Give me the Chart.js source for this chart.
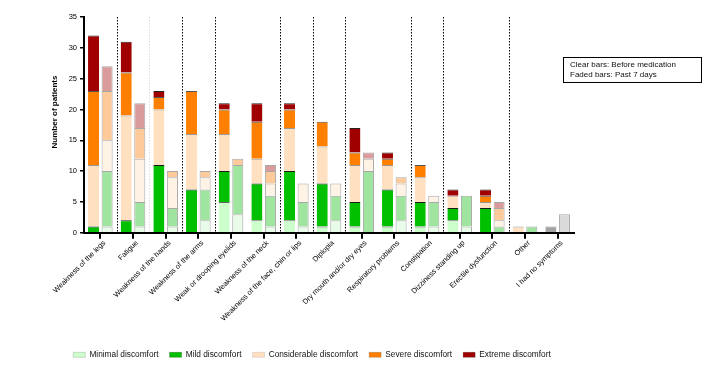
<!DOCTYPE html>
<html>
<head>
<meta charset="utf-8">
<script src="https://cdn.jsdelivr.net/npm/chart.js@4.4.0/dist/chart.umd.min.js"></script>
<style>
  html, body { margin: 0; padding: 0; background: #fff; }
  #wrap { width: 705px; height: 371px; position: relative; }
</style>
</head>
<body>
<div id="wrap"><canvas id="c" width="705" height="371"></canvas></div>
<script>
const categories = [
  "Weakness of the legs", "Fatigue", "Weakness of the hands", "Weakness of the arms",
  "Weak or drooping eyelids", "Weakness of the neck", "Weakness of the face, chin or lips",
  "Diplopia", "Dry mouth and/or dry eyes", "Respiratory problems", "Constipation",
  "Dizziness standing up", "Erectile dysfunction", "Other", "I had no symptoms"
];
const levels = ["Minimal discomfort", "Mild discomfort", "Considerable discomfort", "Severe discomfort", "Extreme discomfort"];

// Clear bars: before medication
const beforeMinimal      = [0, 0, 0, 0, 5, 2, 2, 1, 1, 1, 1, 2, 0, 0, 0];
const beforeMild         = [1, 2, 11, 7, 5, 6, 8, 7, 4, 6, 4, 2, 4, 0, 0];
const beforeConsiderable = [10, 17, 9, 9, 6, 4, 7, 6, 6, 4, 4, 2, 1, 1, 0];
const beforeSevere       = [12, 7, 2, 7, 4, 6, 3, 4, 2, 1, 2, 0, 1, 0, 0];
const beforeExtreme      = [9, 5, 1, 0, 1, 3, 1, 0, 4, 1, 0, 1, 1, 0, 0];
const beforeNoSymptoms   = [0, 0, 0, 0, 0, 0, 0, 0, 0, 0, 0, 0, 0, 0, 1];

// Faded bars: past 7 days
const pastMinimal      = [1, 1, 1, 2, 3, 1, 1, 2, 0, 2, 1, 1, 0, 0, 0];
const pastMild         = [9, 4, 3, 5, 8, 5, 4, 4, 10, 4, 4, 5, 1, 1, 0];
const pastConsiderable = [5, 7, 5, 2, 0, 2, 3, 2, 2, 2, 1, 0, 1, 0, 0];
const pastSevere       = [8, 5, 1, 1, 1, 2, 0, 0, 0, 1, 0, 0, 2, 0, 0];
const pastExtreme      = [4, 4, 0, 0, 0, 1, 0, 0, 1, 0, 0, 0, 1, 0, 0];
const pastNoSymptoms   = [0, 0, 0, 0, 0, 0, 0, 0, 0, 0, 0, 0, 0, 0, 3];

const yTicks = [0, 5, 10, 15, 20, 25, 30, 35];

const clearColors = ["#ccffcc", "#00c000", "#ffe0c0", "#ff8000", "#a00000"];
const clearBorders = ["#666666", "#1a1a1a", "#999999", "#555555", "#222222"];
const fadedColors = ["#e9fbe9", "#9fe49f", "#fff3e6", "#ffca99", "#d99b9b"];
const fadedBorder = "#a8a8a8";

const nz = arr => arr.map(v => v === 0 ? null : v);

const beforeSeries = [beforeMinimal, beforeMild, beforeConsiderable, beforeSevere, beforeExtreme];
const pastSeries = [pastMinimal, pastMild, pastConsiderable, pastSevere, pastExtreme];

const datasets = [];
beforeSeries.forEach((d, i) => datasets.push({
  label: levels[i], data: nz(d), stack: "before",
  backgroundColor: clearColors[i], borderColor: clearBorders[i],
  borderWidth: {top: 1, left: 0, right: 0, bottom: 0}, borderSkipped: false
}));
pastSeries.forEach((d, i) => datasets.push({
  label: levels[i] + " (past 7 days)", data: nz(d), stack: "past",
  backgroundColor: fadedColors[i], borderColor: fadedBorder,
  borderWidth: {top: 1, left: 1, right: 1, bottom: 0}, borderSkipped: false
}));
datasets.push({label: "No symptoms (before)", data: nz(beforeNoSymptoms), stack: "before",
  backgroundColor: "#a3a3a3", borderColor: "#8a8a8a", borderWidth: {top: 1, left: 0, right: 0, bottom: 0}, borderSkipped: false});
datasets.push({label: "No symptoms (past)", data: nz(pastNoSymptoms), stack: "past",
  backgroundColor: "#dadada", borderColor: "#a8a8a8", borderWidth: {top: 1, left: 1, right: 1, bottom: 0}, borderSkipped: false});

datasets.forEach(ds => { ds.categoryPercentage = 0.83; ds.barPercentage = 0.815; });

// group separators (after category index), faint ones listed separately
const separatorsAfter = [0, 2, 3, 5, 6, 7, 9, 10, 12];
const faintSeparatorsAfter = [1];

const font = "'Liberation Sans', Arial, sans-serif";

const extras = {
  id: "extras",
  beforeDatasetsDraw(chart) {
    const {ctx, chartArea, scales: {x}} = chart;
    ctx.save();
    ctx.lineWidth = 1;
    ctx.setLineDash([1.5, 1.5]);
    const drawSep = (i, color) => {
      const px = Math.round((x.getPixelForValue(i) + x.getPixelForValue(i + 1)) / 2) + 0.5;
      ctx.strokeStyle = color;
      ctx.beginPath();
      ctx.moveTo(px, chartArea.top);
      ctx.lineTo(px, chartArea.bottom);
      ctx.stroke();
    };
    faintSeparatorsAfter.forEach(i => drawSep(i, "#dddddd"));
    separatorsAfter.forEach(i => drawSep(i, "#000000"));
    ctx.restore();
  },
  afterDraw(chart) {
    const {ctx, chartArea, scales: {x}} = chart;
    // x tick marks at category centres
    ctx.save();
    ctx.strokeStyle = "#000";
    ctx.lineWidth = 2;
    categories.forEach((c, i) => {
      const px = Math.round(x.getPixelForValue(i));
      ctx.beginPath();
      ctx.moveTo(px, chartArea.bottom);
      ctx.lineTo(px, chartArea.bottom + 6);
      ctx.stroke();
    });
    ctx.restore();

    ctx.save();
    // y-axis title
    ctx.translate(55, 112);
    ctx.rotate(-Math.PI / 2);
    ctx.fillStyle = "#000";
    ctx.font = "bold 8px " + font;
    ctx.textAlign = "center";
    ctx.textBaseline = "middle";
    ctx.fillText("Number of patients", 0, 0);
    ctx.restore();

    ctx.save();
    ctx.strokeStyle = "#000";
    ctx.lineWidth = 1;
    ctx.strokeRect(563.5, 57.5, 138, 25);
    ctx.fillStyle = "#111";
    ctx.font = "8px " + font;
    ctx.textBaseline = "middle";
    ctx.textAlign = "left";
    ctx.fillText("Clear bars: Before medication", 570, 64.5);
    ctx.fillText("Faded bars: Past 7 days", 570, 74.5);
    ctx.restore();
  }
};

new Chart(document.getElementById("c"), {
  type: "bar",
  data: { labels: categories, datasets },
  options: {
    responsive: false,
    animation: false,
    events: [],
    layout: { padding: { left: 50, right: 131, top: 17, bottom: 2 } },
    plugins: {
      tooltip: { enabled: false },
      legend: {
        position: "bottom",
        labels: {
          filter: item => item.datasetIndex < 5,
          boxWidth: 12, boxHeight: 5, padding: 11,
          color: "#111",
          font: { family: font, size: 8.3 }
        }
      }
    },
    scales: {
      x: {
        stacked: true,
        offset: true,
        grid: { display: true, drawOnChartArea: false, drawTicks: true, offset: false, tickLength: 5,
          color: "#000", tickColor: "#000", tickWidth: 2, lineWidth: 2 },
        border: { display: true, color: "#000", width: 2 },
        ticks: { autoSkip: false, maxRotation: 45, minRotation: 45, padding: 1, labelOffset: 4, color: "#000",
          font: { family: font, size: 7.4 } },
        afterFit: s => { s.height = 107; }
      },
      y: {
        stacked: true,
        min: 0, max: 35,
        afterBuildTicks: s => { s.ticks = yTicks.map(v => ({ value: v })); },
        grid: { display: true, drawOnChartArea: false, tickLength: 4, color: "#000", tickColor: "#000", lineWidth: 1.5 },
        border: { display: true, color: "#000", width: 2 },
        ticks: { padding: 3, color: "#000", font: { family: font, size: 7.5 } },
        title: { display: false },
        afterFit: s => { s.width = 34; }
      }
    }
  },
  plugins: [extras]
});
</script>
</body>
</html>
